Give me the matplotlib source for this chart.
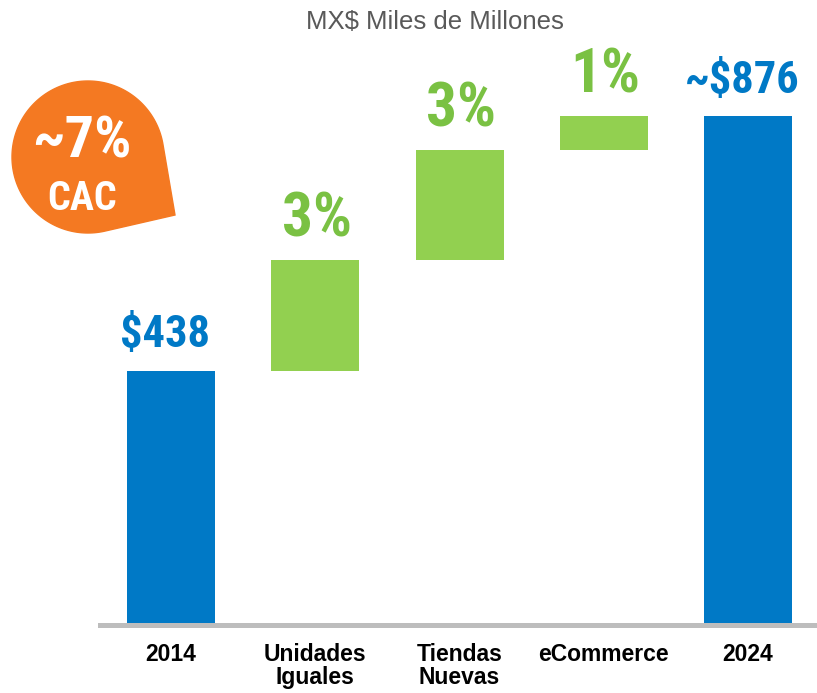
import numpy as np
import matplotlib.pyplot as plt
from matplotlib.patches import Polygon

categories = ['2014', 'Unidades\nIguales', 'Tiendas\nNuevas', 'eCommerce', '2024']
values = [438, 190, 190, 58, 876]
labels = ['$438', '3%', '3%', '1%', '~$876']
kinds = ['total', 'step', 'step', 'step', 'total']

blue = '#0079C6'
green_bar = '#92D050'
green_txt = '#7AC143'
orange = '#F47922'
narrow = ['Roboto Condensed', 'DejaVu Sans']

fig = plt.figure(figsize=(8.17, 6.93), dpi=100)
ax = fig.add_axes([100/817, 1-625/693, 717/817, 625/693])

x = np.arange(len(categories))
bottoms = []
run = 0
for v, k in zip(values, kinds):
    if k == 'total':
        bottoms.append(0)
        run = v
    else:
        bottoms.append(run)
        run += v
colors = [blue if k == 'total' else green_bar for k in kinds]
ax.bar(x, values, bottom=bottoms, width=0.61, color=colors)

for xi, v, b, lab, k in zip(x, values, bottoms, labels, kinds):
    if k == 'total':
        ax.text(xi - 0.04, b + v + 40, lab, ha='center', va='baseline',
                fontsize=32, fontweight='bold', color=blue, family=narrow, fontstretch='condensed')
    else:
        ax.text(xi + 0.01, b + v + 40, lab, ha='center', va='baseline',
                fontsize=44, fontweight='bold', color=green_txt, family=narrow, fontstretch='condensed')

ax.set_xlim(-0.492, 4.478)
ax.set_ylim(0, 1076)
ax.set_yticks([])
ax.set_xticks(x)
ax.set_xticklabels(categories, fontsize=16.5, fontweight='bold', family=['Liberation Sans', 'DejaVu Sans'],
                   linespacing=1.0, va='top')
ax.tick_params(axis='x', length=0, pad=13)
for s in ['top', 'right', 'left']:
    ax.spines[s].set_visible(False)
ax.spines['bottom'].set_color('#BDBDBD')
ax.spines['bottom'].set_linewidth(3.6)

fig.text(435/817, 1-22/693, 'MX$ Miles de Millones', ha='center', va='center',
         fontsize=18.5, color='#595959', family=['Liberation Sans', 'DejaVu Sans'])

# badge
ov = fig.add_axes([0, 0, 1, 1], zorder=5)
ov.set_xlim(0, 817)
ov.set_ylim(693, 0)
ov.axis('off')
cx, cy, r = 88, 157, 76
px, py = 175, 215
d = np.hypot(px - cx, py - cy)
base = np.degrees(np.arctan2(py - cy, px - cx))
off = np.degrees(np.arccos(r / d))
ang = np.radians(np.linspace(base + off, base - off + 360, 200))
pts = np.column_stack([cx + r*np.cos(ang), cy + r*np.sin(ang)])
pts = np.vstack([pts, [px, py]])
ov.add_patch(Polygon(pts, closed=True, color=orange))
ov.text(82, 157, '~7%', ha='center', va='baseline', fontsize=42, fontweight='bold',
        color='white', family=narrow, fontstretch='condensed')
ov.text(82, 210, 'CAC', ha='center', va='baseline', fontsize=29, fontweight='bold',
        color='white', family=narrow, fontstretch='condensed')

fig.savefig('out.png', dpi=100)
